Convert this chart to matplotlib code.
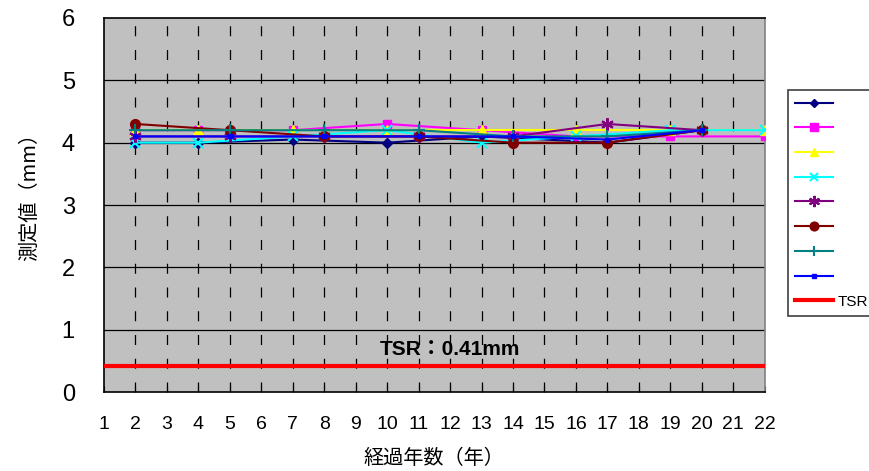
import matplotlib
matplotlib.use('Agg')
import matplotlib.pyplot as plt
from matplotlib.lines import Line2D

plt.rcParams['font.family'] = ['Liberation Sans', 'Noto Sans CJK JP', 'DejaVu Sans']

# measurement years and measured values (mm) per series
years_a = [2, 4, 7, 10, 13, 17, 20]
years_b = [2, 4, 7, 10, 13, 16, 19, 22]
years_c = [2, 5, 8, 11, 14, 17, 20]

s1 = [4.0, 4.0, 4.05, 4.0, 4.1, 4.0, 4.2]
s2 = [4.2, 4.2, 4.2, 4.3, 4.2, 4.1, 4.1, 4.1]
s3 = [4.2, 4.2, 4.2, 4.2, 4.2, 4.2, 4.2, 4.2]
s4 = [4.0, 4.0, 4.1, 4.2, 4.0, 4.1, 4.2, 4.2]
s5 = [4.1, 4.1, 4.1, 4.1, 4.1, 4.3, 4.2]
s6 = [4.3, 4.2, 4.1, 4.1, 4.0, 4.0, 4.2]
s7 = [4.2, 4.2, 4.2, 4.2, 4.1, 4.1, 4.2]
s8 = [4.1, 4.1, 4.1, 4.1, 4.1, 4.05, 4.2]

tsr = 0.41
x_ticks = list(range(1, 23))
y_ticks = list(range(0, 7))

series = [
    (years_a, s1, '#000080', 'D', 5),
    (years_b, s2, '#FF00FF', 's', 6),
    (years_b, s3, '#FFFF00', '^', 7),
    (years_b, s4, '#00FFFF', 'x', 7),
    (years_c, s5, '#800080', (6, 2, 0), 9),
    (years_c, s6, '#800000', 'o', 7),
    (years_c, s7, '#008080', '+', 8),
    (years_c, s8, '#0000FF', 's', 3),
]

fig = plt.figure(figsize=(8.70, 4.71), dpi=100)
ax = fig.add_axes([0.1195, 0.1677, 0.7595, 0.7941])
ax.set_facecolor('#C0C0C0')

ax.set_xlim(1, 22)
ax.set_ylim(0, 6)
ax.set_xticks(x_ticks)
ax.set_yticks(y_ticks)

# gridlines: solid horizontal, dashed vertical
for y in y_ticks[1:-1]:
    ax.axhline(y, color='black', lw=0.9, zorder=1)
for x in x_ticks[1:-1]:
    ax.axvline(x, color='black', lw=0.9, ls=(0, (8, 11)), zorder=1)

handles = []
for xs, ys, col, mk, ms in series:
    mew = 1.5 if mk in ('x', '+') or isinstance(mk, tuple) else 1
    ax.plot(xs, ys, color=col, marker=mk, ms=ms, lw=1.5, mew=mew,
            mec=col, mfc=col, zorder=3)
    handles.append(Line2D([], [], color=col, marker=mk, ms=ms * 0.9, lw=1.5,
                          mew=mew, mec=col, mfc=col))

ax.axhline(tsr, color='#FF0000', lw=3, zorder=4)
handles.append(Line2D([], [], color='#FF0000', lw=3))
ax.text(12, 0.68, f'TSR：{tsr}mm', ha='center', va='center',
        fontsize=15, fontweight='bold', zorder=5)

ax.tick_params(axis='x', length=4, direction='in', pad=17, labelsize=14)
ax.tick_params(axis='y', length=0, pad=21, labelsize=17)
for sp in ax.spines.values():
    sp.set_linewidth(1.2)
ax.spines['right'].set_color('#808080')

jp = ['Noto Sans CJK JP', 'DejaVu Sans']
ax.set_xlabel('経過年数（年）', fontsize=14.5, family=jp, labelpad=11)
ax.set_ylabel('測定値（mm）', fontsize=14.5, family=jp)
ax.yaxis.set_label_coords(-0.097, 0.535)

labels = [' '] * 8 + ['TSR']
leg = fig.legend(handles, labels, loc='upper left',
                 bbox_to_anchor=(788 / 870, 1 - 90 / 471), borderaxespad=0,
                 fontsize=11, frameon=True, fancybox=False,
                 edgecolor='#404040', framealpha=1, borderpad=0.46,
                 handlelength=2.5, handletextpad=0.3, labelspacing=0.7)
leg.get_frame().set_linewidth(1.2)

fig.savefig('out.png', dpi=100)
